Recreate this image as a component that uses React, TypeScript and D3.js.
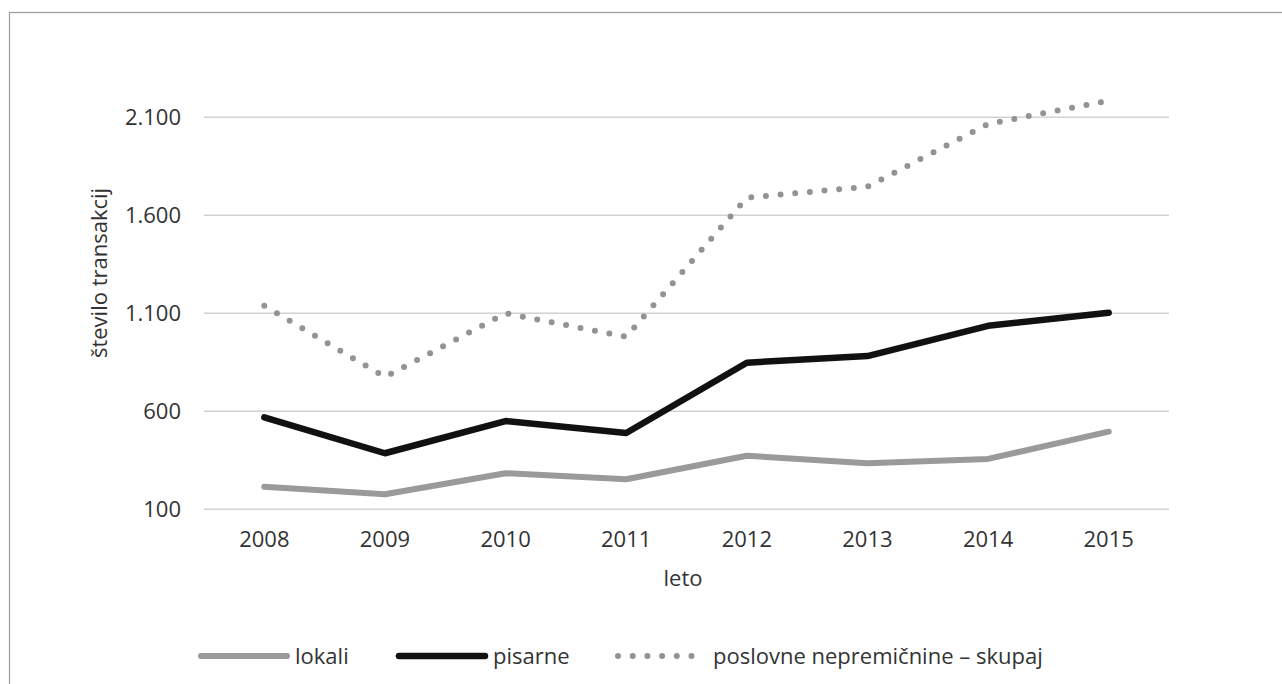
import React from "react";
import * as d3 from "d3";

// Annual transaction counts by type of commercial property
const years = ["2008", "2009", "2010", "2011", "2012", "2013", "2014", "2015"];
const lokali = [215, 177, 284, 253, 373, 335, 357, 496];
const pisarne = [569, 386, 550, 489, 848, 882, 1036, 1103];
const skupaj = [1138, 775, 1100, 980, 1690, 1746, 2066, 2185];
const yTicks = [100, 600, 1100, 1600, 2100];

const W = 1282;
const H = 684;
const FONT = "'Open Sans', 'Noto Sans', sans-serif";
const TEXT = "#333333";

const series = [
  { name: "lokali", values: lokali, color: "#9a9a9a", width: 6, dash: null as string | null },
  { name: "pisarne", values: pisarne, color: "#111111", width: 6.5, dash: null as string | null },
  { name: "poslovne nepremičnine – skupaj", values: skupaj, color: "#939393", width: 6, dash: "0 14.7" },
];

const fmt = (v: number) => d3.format(",")(v).replace(/,/g, ".");

export default function App() {
  const x = d3.scalePoint<string>().domain(years).range([204, 1169]).padding(0.5);
  const y = d3.scaleLinear().domain([100, 2100]).range([509.3, 117.3]);

  const line = d3
    .line<number>()
    .x((_, i) => x(years[i]) as number)
    .y((d) => y(d));

  const legend = [
    { s: series[0], x0: 201, x1: 287, tx: 295 },
    { s: series[1], x0: 399, x1: 485, tx: 493 },
    { s: series[2], x0: 618, x1: 700, tx: 713 },
  ];
  const legendY = 656;

  return (
    <svg
      width={W}
      height={H}
      style={{ position: "absolute", left: 0, top: 0, display: "block", background: "#fff" }}
      fontFamily={FONT}
    >
      <rect x={9.5} y={12.5} width={1400} height={800} fill="none" stroke="#9c9c9c" strokeWidth={1.2} />

      {/* gridlines */}
      {yTicks.map((t) => (
        <line key={t} x1={204} x2={1169} y1={y(t)} y2={y(t)} stroke="#d2d2d2" strokeWidth={1.6} />
      ))}

      {/* y tick labels */}
      {yTicks.map((t) => (
        <text key={"l" + t} x={181} y={y(t) + 7.8} textAnchor="end" fontSize={22} fill={TEXT}>
          {fmt(t)}
        </text>
      ))}

      {/* x tick labels */}
      {years.map((yr) => (
        <text key={yr} x={x(yr)} y={547} textAnchor="middle" fontSize={22} fill={TEXT}>
          {yr}
        </text>
      ))}

      {/* axis titles */}
      <text x={683} y={586} textAnchor="middle" fontSize={22} fill={TEXT}>
        leto
      </text>
      <text
        transform={`translate(107,273) rotate(-90)`}
        textAnchor="middle"
        fontSize={22}
        fill={TEXT}
      >
        število transakcij
      </text>

      {/* series */}
      {series.map((s) => (
        <path
          key={s.name}
          d={line(s.values) as string}
          fill="none"
          stroke={s.color}
          strokeWidth={s.width}
          strokeLinecap="round"
          strokeLinejoin="round"
          strokeDasharray={s.dash ?? undefined}
        />
      ))}

      {/* legend */}
      {legend.map(({ s, x0, x1, tx }) => (
        <g key={"lg" + s.name}>
          <line
            x1={x0}
            x2={x1}
            y1={legendY}
            y2={legendY}
            stroke={s.color}
            strokeWidth={s.width}
            strokeLinecap="round"
            strokeDasharray={s.dash ?? undefined}
          />
          <text x={tx} y={legendY + 8} fontSize={22} fill={TEXT}>
            {s.name}
          </text>
        </g>
      ))}
    </svg>
  );
}
